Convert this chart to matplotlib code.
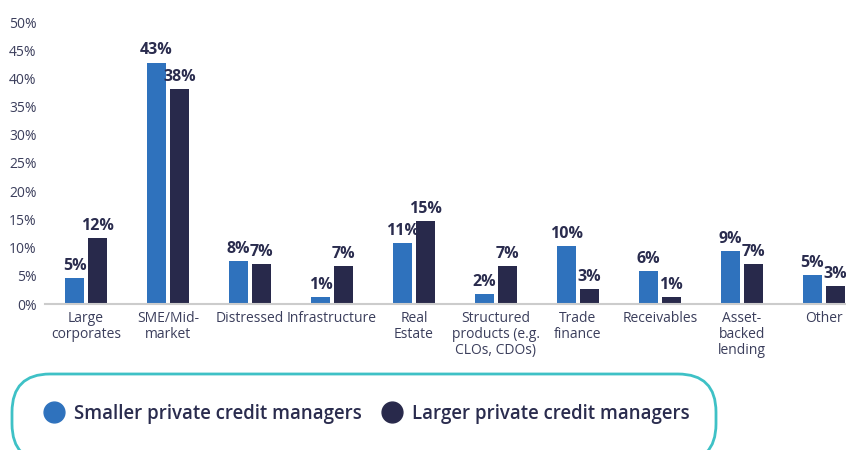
import numpy as np
import matplotlib.pyplot as plt
from matplotlib.lines import Line2D
from matplotlib.patches import FancyBboxPatch

plt.rcParams["font.family"] = ["Open Sans", "DejaVu Sans"]

categories = ["Large\ncorporates", "SME/Mid-\nmarket", "Distressed", "Infrastructure",
              "Real\nEstate", "Structured\nproducts (e.g.\nCLOs, CDOs)", "Trade\nfinance",
              "Receivables", "Asset-\nbacked\nlending", "Other"]
smaller = [4.6, 42.8, 7.6, 1.2, 10.8, 1.8, 10.2, 5.9, 9.4, 5.1]
larger = [11.7, 38.1, 7.1, 6.7, 14.7, 6.7, 2.7, 1.2, 7.1, 3.2]
yticks = [0, 5, 10, 15, 20, 25, 30, 35, 40, 45, 50]

blue = "#2F72BD"
navy = "#28294B"
text_col = "#2A2C4E"
tick_col = "#3B3E5C"

fig = plt.figure(figsize=(8.46, 4.5), dpi=100)
ax = fig.add_axes([45 / 846, 1 - 304 / 450, 801 / 846, (304 - 22) / 450])

x = np.arange(len(categories))
w = 0.23
b1 = ax.bar(x - 0.14, smaller, width=w, color=blue)
b2 = ax.bar(x + 0.14, larger, width=w, color=navy)
for bars in (b1, b2):
    ax.bar_label(bars, fmt="{:.0f}%", padding=3, fontsize=11.5, fontweight="bold",
                 color=text_col)

ax.set_xlim(-0.5, 9.27)
ax.set_ylim(0, 50)
ax.set_yticks(yticks)
ax.set_yticklabels([f"{v}%" for v in yticks])
ax.set_xticks(x)
ax.set_xticklabels(categories, linespacing=1.1)
ax.tick_params(axis="y", length=0, pad=6, labelsize=10, labelcolor=tick_col)
ax.tick_params(axis="x", length=0, pad=5, labelsize=10, labelcolor=tick_col)
for s in ("top", "right", "left"):
    ax.spines[s].set_visible(False)
ax.spines["bottom"].set_color("#CCCCCC")
ax.spines["bottom"].set_linewidth(1.5)

# legend box
box = FancyBboxPatch((12 / 846, 1 - 462 / 450), 704 / 846, 88 / 450,
                     boxstyle="round,pad=0,rounding_size=0.045",
                     transform=fig.transFigure, facecolor="none",
                     edgecolor="#3EC1C6", linewidth=2, mutation_aspect=846 / 450)
fig.patches.append(box)

handles = [Line2D([], [], marker="o", linestyle="none", markersize=15, color=blue),
           Line2D([], [], marker="o", linestyle="none", markersize=15, color=navy)]
fig.legend(handles, ["Smaller private credit managers", "Larger private credit managers"],
           loc="center", bbox_to_anchor=(366 / 846, 1 - 414 / 450), ncol=2, frameon=False,
           prop={"size": 13.4, "weight": "semibold"}, labelcolor=text_col,
           handlelength=1.2, handletextpad=0.5, columnspacing=1.0)

fig.savefig("out.png", dpi=100)
